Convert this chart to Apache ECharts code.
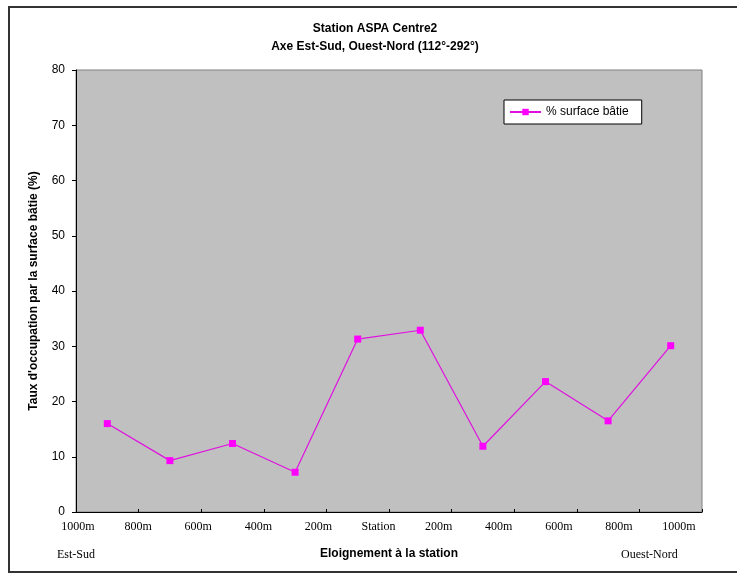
<!DOCTYPE html>
<html>
<head>
<meta charset="utf-8">
<script src="https://cdn.jsdelivr.net/npm/echarts@6/dist/echarts.min.js"></script>
<style>
html,body{margin:0;padding:0;background:#fff;}
#chart{width:737px;height:576px;}
</style>
</head>
<body>
<div id="chart"></div>
<script>
// Data
var categories = ['P1','P2','P3','P4','P5','P6','P7','P8','P9','P10'];
var surfaceBatie = [16.0, 9.3, 12.4, 7.2, 31.3, 32.9, 11.9, 23.6, 16.5, 30.1];
var tickLabels = ['1000m','800m','600m','400m','200m','Station','200m','400m','600m','800m','1000m'];
var yTicks = {min: 0, max: 80, interval: 10};

var sans = '"Liberation Sans", Arial, sans-serif';
var serif = '"Liberation Serif", "Times New Roman", serif';

var chart = echarts.init(document.getElementById('chart'), null, {renderer: 'canvas'});
chart.setOption({
  animation: false,
  backgroundColor: '#ffffff',
  title: [
    {
      text: 'Station ASPA Centre2\nAxe Est-Sud, Ouest-Nord (112°-292°)',
      left: 375, top: 20, padding: 0, textAlign: 'center',
      textStyle: {fontFamily: sans, fontSize: 12, fontWeight: 'bold', color: '#000', lineHeight: 18}
    },
    {
      text: 'Est-Sud', left: 57, top: 549, padding: 0,
      textStyle: {fontFamily: serif, fontSize: 12, fontWeight: 'normal', color: '#000'}
    },
    {
      text: 'Ouest-Nord', left: 621, top: 549, padding: 0,
      textStyle: {fontFamily: serif, fontSize: 12, fontWeight: 'normal', color: '#000'}
    }
  ],
  legend: {
    data: ['% surface bâtie'],
    left: 504, top: 100,
    orient: 'vertical',
    padding: [6, 13, 6, 5],
    itemWidth: 31, itemHeight: 8,
    backgroundColor: '#ffffff',
    borderColor: '#000', borderWidth: 1, borderRadius: 0,
    textStyle: {fontFamily: sans, fontSize: 12, color: '#000'}
  },
  graphic: [
    {
      type: 'rect', silent: true, z: 100,
      shape: {x: 9, y: 7, width: 740, height: 565},
      style: {fill: 'none', stroke: '#333', lineWidth: 2}
    }
  ],
  grid: [
    {left: 76, right: 35, top: 70, bottom: 64, show: true, backgroundColor: '#c0c0c0', borderColor: '#808080', borderWidth: 1},
    {left: 78, right: 58, top: 70, bottom: 64, show: false}
  ],
  xAxis: [
    {
      type: 'category', gridIndex: 0, data: categories, boundaryGap: true,
      name: 'Eloignement à la station', nameLocation: 'middle', nameGap: 36,
      nameTextStyle: {fontFamily: sans, fontSize: 12, fontWeight: 'bold', color: '#000'},
      axisLine: {lineStyle: {color: '#000', width: 1}},
      axisTick: {show: true, inside: true, length: 3, lineStyle: {color: '#000'}},
      axisLabel: {show: false},
      splitLine: {show: false}
    },
    {
      type: 'category', gridIndex: 1, data: tickLabels, boundaryGap: false, position: 'bottom',
      axisLine: {show: false}, axisTick: {show: false},
      axisLabel: {show: true, interval: 0, margin: 9, fontFamily: serif, fontSize: 12, color: '#000'},
      splitLine: {show: false}
    }
  ],
  yAxis: [
    {
      type: 'value', gridIndex: 0, min: yTicks.min, max: yTicks.max, interval: yTicks.interval,
      name: "Taux d'occupation par la surface bâtie (%)", nameLocation: 'middle', nameGap: 36,
      nameTextStyle: {fontFamily: sans, fontSize: 12, fontWeight: 'bold', color: '#000'},
      axisLine: {show: true, lineStyle: {color: '#000', width: 1}},
      axisTick: {show: true, inside: false, length: 4, lineStyle: {color: '#000'}},
      axisLabel: {margin: 11, fontFamily: sans, fontSize: 12, color: '#000'},
      splitLine: {show: false}
    },
    {
      type: 'value', gridIndex: 1, min: 0, max: 1, show: false
    }
  ],
  series: [
    {
      name: '% surface bâtie', type: 'line', xAxisIndex: 0, yAxisIndex: 0,
      data: surfaceBatie,
      symbol: 'rect', symbolSize: 7,
      itemStyle: {color: '#ff00ff'},
      lineStyle: {color: '#e010e0', width: 1.2}
    }
  ]
});
</script>
</body>
</html>
